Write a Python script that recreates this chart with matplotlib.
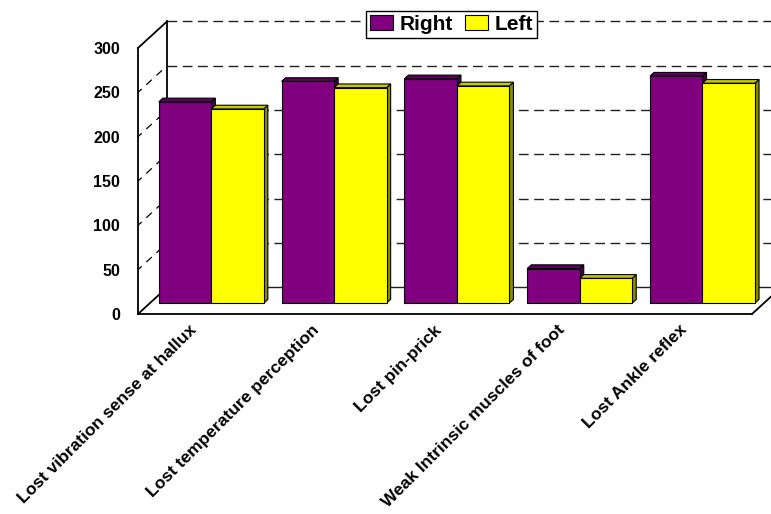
import matplotlib
matplotlib.use("Agg")
import matplotlib.pyplot as plt
from matplotlib.patches import Polygon
import numpy as np

# data
categories = ["Lost vibration sense at hallux", "Lost temperature perception",
              "Lost pin-prick", "Weak Intrinsic muscles of foot", "Lost Ankle reflex"]
right_vals = [227, 250, 253, 39, 256]
left_vals = [219, 243, 245, 28, 248]
yticks = [0, 50, 100, 150, 200, 250, 300]

# look of the fake 3d box (in data units)
DX, DY = 0.236, 29.9          # depth of the floor / walls
F = 0.41                      # bars sit this far into the depth
BD = 0.14                     # depth of a bar
W = 0.4275                    # bar width

plt.rcParams['font.family'] = ['Liberation Sans', 'DejaVu Sans']

fig = plt.figure(figsize=(7.71, 5.14), dpi=100)
ax = fig.add_axes([138/771, 1 - 314/514, 614/771, 266/514])
ax.set_xlim(0, 5)
ax.set_ylim(0, 300)
for s in ax.spines.values():
    s.set_visible(False)

ymax = yticks[-1]

# back wall grid
for v in yticks:
    ls = '-' if v == 0 else (0, (7, 4))
    ax.plot([DX, 5 + DX], [v + DY, v + DY], color='#222222', lw=1, ls=ls,
            clip_on=False, zorder=1)
# side wall grid
for v in yticks[1:-1]:
    ax.plot([0, DX], [v, v + DY], color='black', lw=0.9, ls=(2, (6, 5)),
            clip_on=False, zorder=1)

# box edges
edges = [([0, 0], [0, ymax]), ([0, DX], [ymax, ymax + DY]),
         ([DX, DX], [DY, ymax + DY]), ([0, 5], [0, 0]),
         ([0, DX], [0, DY]), ([5, 5 + DX], [0, DY])]
for xs, ys in edges:
    ax.plot(xs, ys, color='black', lw=1.3, clip_on=False, zorder=1.5)

bx, by = F * DX, F * DY
ddx, ddy = BD * DX, BD * DY
x = np.arange(len(categories))

def draw_bars(xpos, vals, front, top, side, label):
    for x0, v in zip(xpos, vals):
        x0 = x0 + bx
        side_pts = [(x0 + W, by), (x0 + W + ddx, by + ddy),
                    (x0 + W + ddx, by + v + ddy), (x0 + W, by + v)]
        top_pts = [(x0, by + v), (x0 + W, by + v),
                   (x0 + W + ddx, by + v + ddy), (x0 + ddx, by + v + ddy)]
        ax.add_patch(Polygon(side_pts, closed=True, facecolor=side,
                             edgecolor='black', lw=0.8, zorder=3, clip_on=False))
        ax.add_patch(Polygon(top_pts, closed=True, facecolor=top,
                             edgecolor='black', lw=0.8, zorder=3, clip_on=False))
    ax.bar(np.array(xpos) + bx, vals, W, bottom=by, align='edge', color=front,
           edgecolor='black', lw=0.8, zorder=3, label=label, clip_on=False)

draw_bars(x + 0.5 - W, right_vals, '#800080', '#5e005e', '#4a004a', 'Right')
draw_bars(x + 0.5, left_vals, '#ffff00', '#c8c800', '#8c8c00', 'Left')

# axis labels
ax.set_yticks(yticks)
ax.set_yticklabels([str(t) for t in yticks], fontsize=11.5, fontweight='bold')
ax.tick_params(axis='y', length=0, pad=13)
ax.set_xticks(x + 0.41)
ax.set_xticklabels(categories, fontsize=12.5, fontweight='bold', rotation=45,
                   ha='right', rotation_mode='anchor')
ax.tick_params(axis='x', length=0, pad=6)

leg = fig.legend(loc='upper center', bbox_to_anchor=(0.5856, 0.979), ncol=2,
                 fancybox=False, edgecolor='black', framealpha=1,
                 prop={'weight': 'bold', 'size': 15}, handlelength=1.1,
                 handleheight=0.75, handletextpad=0.3, columnspacing=0.6,
                 borderpad=0.2, borderaxespad=0)
leg.get_frame().set_linewidth(1)
leg.set_zorder(10)

fig.savefig("out.png", dpi=100)
